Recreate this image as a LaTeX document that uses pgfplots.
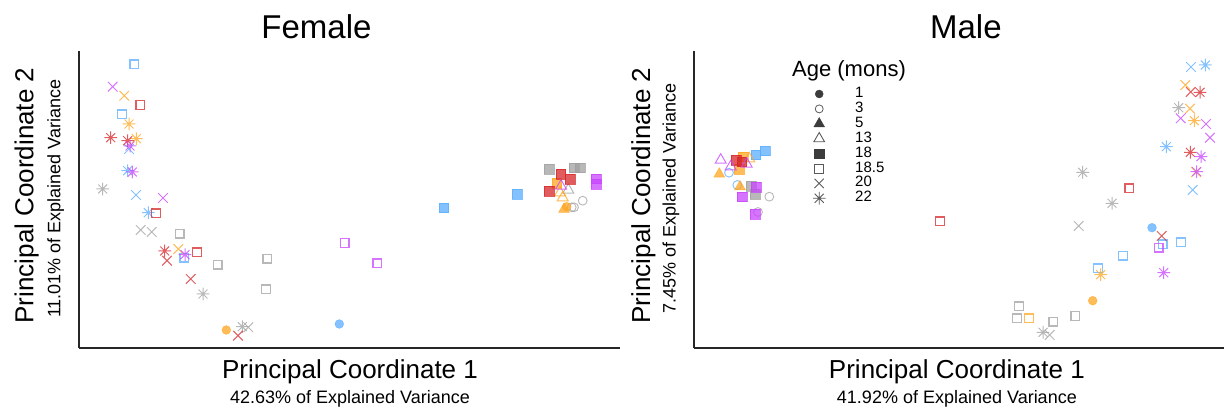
\documentclass[border=0pt]{standalone}
\usepackage{pgfplots}
\pgfplotsset{compat=1.18}
\usepackage{fontspec}
\setmainfont{Liberation Sans}

% eight-spoke asterisk (plus and cross combined)
\pgfdeclareplotmark{ast8}{%
  \pgfpathmoveto{\pgfqpoint{-\pgfplotmarksize}{0pt}}\pgfpathlineto{\pgfqpoint{\pgfplotmarksize}{0pt}}%
  \pgfpathmoveto{\pgfqpoint{0pt}{-\pgfplotmarksize}}\pgfpathlineto{\pgfqpoint{0pt}{\pgfplotmarksize}}%
  \pgfpathmoveto{\pgfqpoint{-0.7071\pgfplotmarksize}{-0.7071\pgfplotmarksize}}\pgfpathlineto{\pgfqpoint{0.7071\pgfplotmarksize}{0.7071\pgfplotmarksize}}%
  \pgfpathmoveto{\pgfqpoint{-0.7071\pgfplotmarksize}{0.7071\pgfplotmarksize}}\pgfpathlineto{\pgfqpoint{0.7071\pgfplotmarksize}{-0.7071\pgfplotmarksize}}%
  \pgfusepathqstroke}

\definecolor{cblue}{HTML}{5AAEFF}
\definecolor{corange}{HTML}{FFA520}
\definecolor{cred}{HTML}{D7262A}
\definecolor{cpurple}{HTML}{C845FF}
\definecolor{cgray}{HTML}{A0A0A0}
\definecolor{lgdark}{HTML}{3C3C3C}
\definecolor{lglight}{HTML}{5A5A5A}

\tikzset{
  lab1/.style={font=\fontsize{26}{26}\selectfont},
  lab2/.style={font=\fontsize{18}{18}\selectfont},
}

\pgfplotsset{
  pcoa/.style={scale only axis, height=297pt, ymin=-348, ymax=-51,
    axis x line=bottom, axis y line=left,
    axis line style={-, line width=1.3pt, color=black!85},
    xtick=\empty, ytick=\empty, clip=false},
  mk/.style={only marks, forget plot, color=#1,
    every mark/.append style={solid, draw opacity=0.75, fill opacity=0.75}},
  fsq/.style={mk=#1, mark=square*, mark size=4.9pt},
  osq/.style={mk=#1, mark=square, mark size=4.4pt, every mark/.append style={line width=1.3pt}},
  fci/.style={mk=#1, mark=*, mark size=4.4pt},
  oci/.style={mk=#1, mark=o, mark size=4.4pt, every mark/.append style={line width=0.9pt}},
  ftr/.style={mk=#1, mark=triangle*, mark size=6.3pt},
  otr/.style={mk=#1, mark=triangle, mark size=6.3pt, every mark/.append style={line width=1pt}},
  xx/.style={mk=#1, mark=x, mark size=6.8pt, every mark/.append style={line width=1pt}},
  as/.style={mk=#1, mark=ast8, mark size=6.3pt, every mark/.append style={line width=1pt}},
}

\begin{document}
\begin{tikzpicture}
\useasboundingbox (0,0) rectangle (1224pt,411pt);

% ---------------- Female ----------------
\begin{axis}[pcoa, width=541pt, xmin=79, xmax=620, at={(79pt,63pt)}, anchor=south west]
\node[anchor=base, font=\fontsize{33}{33}\selectfont] at (axis description cs:0.439,1.0404) {Female};
\node[rotate=90, anchor=base, lab1] at (axis description cs:-0.0841,0.5135) {Principal Coordinate 2};
\node[rotate=90, anchor=base, lab2] at (axis description cs:-0.0342,0.503) {11.01\% of Explained Variance};
\node[anchor=base, lab1] at (axis description cs:0.501,-0.104) {Principal Coordinate 1};
\node[anchor=base, lab2] at (axis description cs:0.501,-0.187) {42.63\% of Explained Variance};

% gray
\addplot[as=cgray]  coordinates {(102.7,-189) (203,-294) (242.3,-326.7)};
\addplot[xx=cgray]  coordinates {(140.7,-230) (151.7,-232) (248.3,-327.3)};
\addplot[osq=cgray] coordinates {(179.7,-233.7) (217.7,-264.7) (267.3,-258.7) (266,-289.3)};
\addplot[fsq=cgray] coordinates {(549,-169) (574,-167.7) (580,-167.7)};
\addplot[otr=cgray] coordinates {(568.3,-190)};
\addplot[oci=cgray] coordinates {(582.7,-200.7) (571.7,-207.3) (574,-207.3)};
% blue
\addplot[osq=cblue] coordinates {(134.3,-64.3) (122,-114.3) (184.3,-257.7)};
\addplot[xx=cblue]  coordinates {(129,-149) (136,-195)};
\addplot[as=cblue]  coordinates {(127.7,-170.7) (148.3,-212.7)};
\addplot[fci=cblue] coordinates {(339.3,-324)};
\addplot[fsq=cblue] coordinates {(443.7,-207.7) (517,-194.3)};
% orange
\addplot[xx=corange]  coordinates {(124.3,-95.7) (178.3,-249)};
\addplot[as=corange]  coordinates {(129,-124) (136.3,-138.7)};
\addplot[fci=corange] coordinates {(226.3,-330) (566.7,-206.7)};
\addplot[fsq=corange] coordinates {(556.7,-183.3)};
\addplot[otr=corange] coordinates {(560,-192.7) (562.7,-197.7)};
\addplot[ftr=corange] coordinates {(564,-209.3)};
% red
\addplot[osq=cred] coordinates {(140.3,-105) (156,-213.3) (197,-252.3)};
\addplot[as=cred]  coordinates {(110.7,-137.7) (127.7,-140.7) (164.7,-251)};
\addplot[xx=cred]  coordinates {(167,-260.7) (190.7,-279) (238,-335.7)};
\addplot[fsq=cred] coordinates {(560.7,-174) (570.3,-179.3) (549.3,-191.3)};
% purple
\addplot[xx=cpurple]  coordinates {(112.7,-86.7) (163,-198)};
\addplot[as=cpurple]  coordinates {(130,-146) (132.3,-172) (185,-254.7)};
\addplot[osq=cpurple] coordinates {(344.7,-243) (377.3,-263.3)};
\addplot[fsq=cpurple] coordinates {(596,-178.7) (596,-184.3)};
\addplot[otr=cpurple] coordinates {(561,-186)};
\end{axis}

% ---------------- Male ----------------
\begin{axis}[pcoa, width=530pt, xmin=694, xmax=1224, at={(694pt,63pt)}, anchor=south west,
  legend image code/.code={\path[draw=none, fill=none] (0pt,-5pt) rectangle (20pt,5pt);
    \draw[#1] plot coordinates {(10pt,0pt)};},
  legend style={at={(axis description cs:0.217,0.881)}, anchor=north west,
    draw=none, fill=none, inner sep=0pt, font=\fontsize{15}{15}\selectfont,
    nodes={inner sep=0pt, text height=11pt, text depth=3.9pt},
    /tikz/every odd column/.append style={column sep=26pt}},
  legend cell align=left]
\node[anchor=base, font=\fontsize{33}{33}\selectfont] at (axis description cs:0.513,1.0404) {Male};
\node[rotate=90, anchor=base, lab1] at (axis description cs:-0.083,0.5135) {Principal Coordinate 2};
\node[rotate=90, anchor=base, lab2] at (axis description cs:-0.0349,0.503) {7.45\% of Explained Variance};
\node[anchor=base, lab1] at (axis description cs:0.496,-0.104) {Principal Coordinate 1};
\node[anchor=base, lab2] at (axis description cs:0.496,-0.187) {41.92\% of Explained Variance};
\node[anchor=base, font=\fontsize{22}{22}\selectfont] at (axis description cs:0.2925,0.9125) {Age (mons)};

\addlegendimage{only marks, mark=*, mark size=4pt, color=lgdark}
\addlegendentry{1}
\addlegendimage{only marks, mark=o, mark size=4pt, color=lglight, every mark/.append style={line width=0.8pt}}
\addlegendentry{3}
\addlegendimage{only marks, mark=triangle*, mark size=6.2pt, color=lgdark}
\addlegendentry{5}
\addlegendimage{only marks, mark=triangle, mark size=6.2pt, color=lglight, every mark/.append style={line width=0.9pt}}
\addlegendentry{13}
\addlegendimage{only marks, mark=square*, mark size=4.7pt, color=lgdark}
\addlegendentry{18}
\addlegendimage{only marks, mark=square, mark size=4.5pt, color=lglight, every mark/.append style={line width=0.9pt}}
\addlegendentry{18.5}
\addlegendimage{only marks, mark=x, mark size=6.6pt, color=lglight, every mark/.append style={line width=0.9pt}}
\addlegendentry{20}
\addlegendimage{only marks, mark=ast8, mark size=6.4pt, color=lglight, every mark/.append style={line width=0.9pt}}
\addlegendentry{22}

% gray
\addplot[fsq=cgray] coordinates {(751,-186) (755,-194)};
\addplot[oci=cgray] coordinates {(769.3,-196.7) (758,-212)};
\addplot[as=cgray]  coordinates {(1082.7,-172.3) (1112,-203.3) (1043,-332.3) (1178.7,-107.7)};
\addplot[xx=cgray]  coordinates {(1078.7,-226) (1049.7,-335)};
\addplot[osq=cgray] coordinates {(1019,-306.3) (1017,-318.3) (1053.3,-321.7) (1075.3,-316)};
% blue
\addplot[fsq=cblue] coordinates {(755.7,-154.7) (765,-150.7)};
\addplot[oci=cblue] coordinates {(729,-172.7) (737.3,-185)};
\addplot[fci=cblue] coordinates {(1152,-227.7)};
\addplot[osq=cblue] coordinates {(1162.7,-244.3) (1181,-242.3) (1123,-255.7) (1098,-268.3)};
\addplot[as=cblue]  coordinates {(1166.3,-146.7) (1205.3,-65)};
\addplot[xx=cblue]  coordinates {(1192.7,-190) (1191,-67)};
% orange
\addplot[fsq=corange] coordinates {(743.3,-156.7) (739,-169.3)};
\addplot[otr=corange] coordinates {(749.3,-158.7)};
\addplot[ftr=corange] coordinates {(719.3,-174) (740,-186.7)};
\addplot[as=corange]  coordinates {(1100.7,-274.7) (1194.3,-120.7)};
\addplot[fci=corange] coordinates {(1092.7,-300.7)};
\addplot[osq=corange] coordinates {(1029,-318.3)};
\addplot[xx=corange]  coordinates {(1185.3,-85) (1190,-108.7) (1196,-172)};
% red
\addplot[fsq=cred] coordinates {(736,-160) (741.7,-161.7)};
\addplot[osq=cred] coordinates {(940,-221.3) (1129.3,-188.3)};
\addplot[xx=cred]  coordinates {(1161.7,-236) (1190.7,-92)};
\addplot[as=cred]  coordinates {(1200,-92.3) (1190.3,-152.3)};
% purple
\addplot[otr=cpurple] coordinates {(720.7,-160) (730.7,-166.7) (746.7,-164)};
\addplot[fsq=cpurple] coordinates {(756,-187.3) (742.3,-196.7) (755,-214.3)};
\addplot[osq=cpurple] coordinates {(1158.7,-247.7)};
\addplot[as=cpurple]  coordinates {(1163.7,-272.7) (1201,-156.7) (1196.7,-171.7)};
\addplot[xx=cpurple]  coordinates {(1180.7,-118.3) (1206,-124) (1210,-137.7)};
\end{axis}
\end{tikzpicture}
\end{document}
